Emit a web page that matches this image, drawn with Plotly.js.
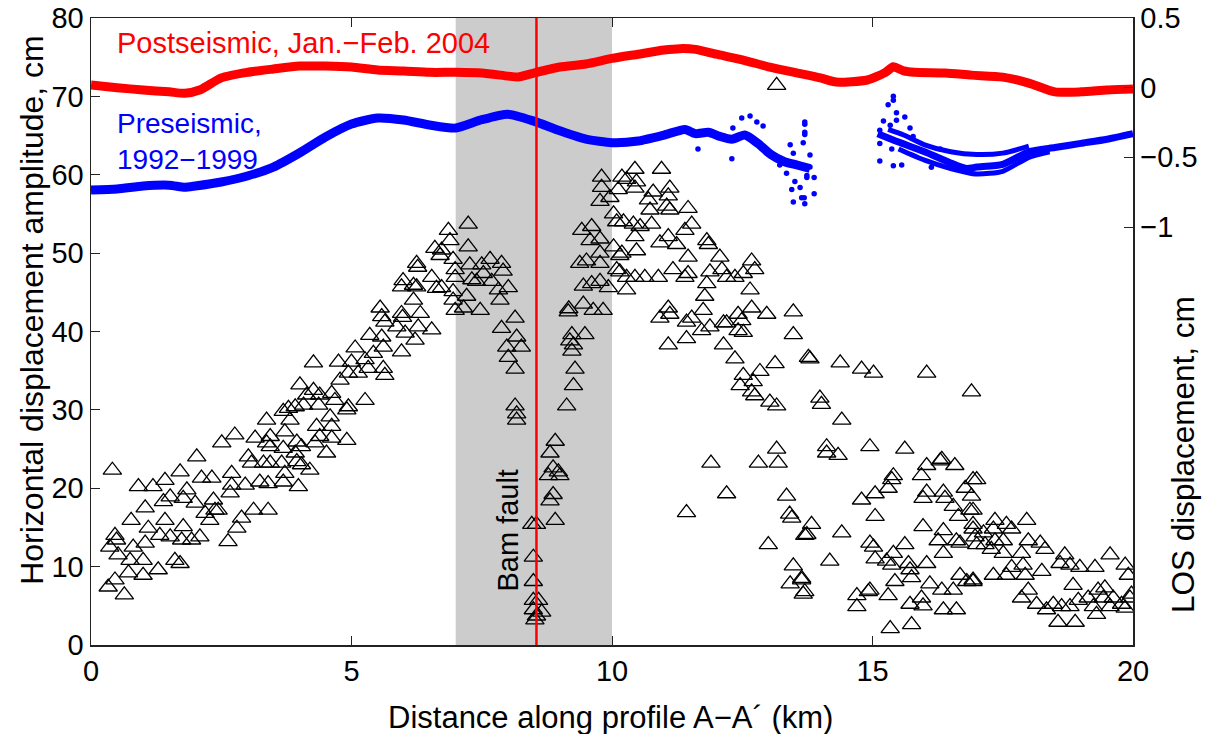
<!DOCTYPE html>
<html>
<head>
<meta charset="utf-8">
<script src="https://cdn.plot.ly/plotly-3.0.1.min.js"></script>
<style>html,body{margin:0;padding:0;background:#fff;}#chart{width:1211px;height:734px;}</style>
</head>
<body>
<div id="chart"></div>
<script>
// ---- Data ----
// Horizontal displacement amplitude (cm), left axis
const triX = [0.41,0.33,0.46,0.64,0.36,0.46,0.52,0.49,0.72,0.75,0.77,0.81,1.0,1.0,1.04,1.04,1.1,0.91,1.19,1.29,1.32,1.39,1.42,1.42,1.52,1.52,1.61,1.71,1.71,1.74,1.77,1.77,1.84,1.93,2.0,2.03,2.09,2.12,2.19,2.28,2.32,2.35,2.38,2.44,2.51,2.63,2.67,2.70,2.76,2.80,2.70,2.89,2.96,3.02,3.08,3.12,3.15,3.24,3.31,3.37,3.37,3.40,3.44,
6.86,6.60,6.70,6.25,6.27,5.99,5.96,6.19,6.25,6.54,6.63,6.19,5.55,5.58,5.64,5.96,5.98,5.87,6.03,6.28,6.32,6.54,6.22,5.96,5.35,5.58,5.61,5.42,5.07,5.0,5.26,5.32,5.61,5.64,5.13,4.94,4.75,4.78,4.27,4.01,4.27,4.39,4.62,4.68,4.94,4.91,5.26,4.14,4.08,4.37,3.92,3.79,3.69,3.82,3.72,3.44,3.95,4.33,4.39,4.59,4.62,4.62,4.91,4.30,4.52,4.04,3.92,3.69,3.44,3.66,3.95,4.04,4.20,3.72,3.69,3.98,3.40,
6.89,7.24,6.73,6.95,6.99,7.24,7.27,6.99,6.73,6.95,6.95,6.99,7.15,7.21,7.31,7.40,7.50,7.53,7.47,7.66,7.69,7.88,7.91,7.82,7.85,8.01,8.14,7.88,8.17,7.98,8.26,8.01,8.14,8.14,8.17,8.17,8.46,8.55,8.49,8.49,8.49,8.59,8.49,8.55,8.65,8.52,8.91,8.81,8.78,8.87,8.97,9.0,8.87,8.81,8.91,9.13,9.26,9.29,9.23,9.26,9.19,9.23,9.16,9.17,9.48,9.45,9.64,9.83,9.45,9.61,9.77,9.93,9.38,9.51,9.77,9.77,9.42,9.61,9.58,9.77,10.03,10.15,10.09,10.03,10.09,9.80,9.80,9.77,9.96,10.12,10.19,10.28,
10.28,10.44,10.47,10.44,10.95,11.11,11.08,10.79,10.70,10.73,11.05,11.11,11.46,10.76,10.41,10.22,10.54,10.44,10.47,10.19,10.15,10.28,10.44,10.63,10.89,10.92,11.08,11.24,11.40,11.53,11.17,11.40,11.46,11.46,11.82,11.85,12.07,12.11,11.88,11.82,11.78,11.75,12.20,12.36,12.52,12.68,12.74,12.65,12.68,12.97,13.48,13.48,13.77,11.08,10.92,11.11,11.08,11.43,11.43,11.53,11.72,11.88,12.14,12.20,12.42,12.49,12.42,12.52,12.14,12.36,12.52,12.46,12.68,12.74,12.84,12.71,13.03,13.16,13.13,13.16,11.9,12.20,11.43,12.81,13.19,13.35,13.41,13.45,13.0,13.70,13.48,13.64,13.42,13.67,13.16,
13.80,14.38,14.79,15.02,16.04,16.90,13.99,14.02,14.41,14.12,14.12,14.34,14.95,15.62,16.04,16.30,16.33,16.58,16.93,15.40,15.37,15.94,15.30,15.05,14.79,16.04,15.97,16.36,16.39,16.78,16.55,16.65,16.87,15.05,13.83,13.74,14.41,14.95,15.02,15.62,15.40,15.97,16.36,16.26,16.61,16.68,16.93,15.05,15.27,15.37,15.69,15.72,15.75,16.04,16.36,14.18,13.64,13.70,14.70,14.70,14.92,14.95,15.30,15.43,15.72,15.94,15.97,16.10,16.33,16.36,16.55,16.61,16.68,16.81,16.93,15.34,15.75,
17.0,16.90,16.93,16.93,16.97,17.0,16.93,17.32,17.57,17.93,17.35,17.32,17.57,17.67,17.96,17.13,17.16,17.35,17.51,17.28,17.51,17.99,17.86,17.89,17.67,18.22,18.31,18.25,18.69,18.60,18.79,18.85,18.98,19.27,19.56,19.85,19.91,17.86,17.99,18.15,18.34,18.56,18.47,18.63,18.89,18.79,18.95,19.14,19.24,19.33,19.46,19.43,19.62,19.56,19.78,19.85,19.94,19.97,19.30];
const triY = [22.3,7.4,8.3,6.4,12.5,14.0,11.5,13.4,9.2,10.8,15.9,12.5,8.9,10.8,13.0,17.5,14.9,20.2,20.2,9.6,14.0,18.3,21.0,15.9,18.9,13.8,10.8,10.4,22.1,13.4,15.1,18.7,19.8,13.4,18.1,24.0,13.8,21.3,16.8,15.9,21.3,18.5,17.2,17.2,25.8,13.2,19.4,21.9,26.8,14.9,20.4,16.2,20.4,24.0,23.2,17.2,26.4,20.8,23.2,28.7,25.8,17.2,23.2,
52.9,50.6,49.7,48.7,48.2,46.5,45.7,45.9,45.7,46.9,45.5,44.0,43.0,41.9,41.2,42.3,41.8,40.6,39.8,40.6,42.3,40.2,38.9,37.4,39.5,39.3,38.0,37.2,37.9,36.1,36.4,35.3,35.3,34.4,34.7,34.7,36.1,33.8,36.0,33.2,32.5,31.9,32.1,31.2,30.4,30.0,31.2,31.9,30.6,30.6,30.4,30.2,29.8,28.7,27.2,26.6,25.9,27.9,26.6,29.1,27.9,26.4,26.1,25.8,24.5,25.3,24.5,25.1,25.3,23.2,23.4,23.0,22.3,21.9,20.8,20.2,20.6,
51.6,53.7,50.4,49.2,47.9,50.8,48.5,46.9,45.6,45.1,44.0,42.7,43.0,44.5,46.6,46.4,48.5,47.4,42.7,49.2,46.4,48.7,47.7,45.3,44.0,45.6,41.7,40.4,39.3,38.0,38.0,36.7,35.2,30.5,29.5,28.7,15.4,15.4,11.2,8.1,5.7,5.7,4.5,3.7,4.2,3.2,26.0,24.5,21.6,22.6,22.1,21.6,19.2,18.4,15.9,30.5,33.1,35.2,37.5,38.3,38.8,39.6,42.5,42.9,39.6,43.5,42.7,42.7,45.8,46.1,46.4,45.6,48.7,49.0,48.7,50.0,52.9,53.4,51.6,51.8,50.8,49.7,47.9,55.0,54.0,59.7,58.4,56.6,57.1,58.1,59.7,45.3,
59.4,60.7,59.1,58.3,60.7,58.3,57.3,57.8,56.8,55.5,56.0,55.5,55.7,53.7,53.7,54.0,53.4,52.1,50.3,50.0,47.6,46.9,46.9,46.9,46.9,51.3,52.1,51.1,52.9,53.7,47.9,46.9,49.5,47.4,51.6,51.1,49.5,47.9,47.6,46.1,44.5,42.7,46.9,46.9,47.4,49.0,47.9,45.3,43.0,42.2,42.5,39.6,36.7,43.0,41.7,42.2,38.3,39.1,41.2,41.7,40.1,40.6,41.1,41.1,42.2,41.4,40.1,39.9,38.3,36.5,34.4,33.1,32.3,31.8,34.9,33.6,31.0,30.5,35.9,25.0,23.2,19.3,16.9,23.2,23.2,19.0,16.7,16.2,12.8,14.0,10.1,8.5,7.8,6.5,71.4,
36.5,36.0,35.2,34.7,34.7,32.3,31.5,30.7,28.7,25.3,24.5,24.2,25.3,25.0,22.9,23.5,23.7,22.9,21.1,21.6,21.1,21.6,20.0,19.3,18.5,19.5,18.7,19.5,18.7,20.0,17.7,16.4,17.2,16.4,15.4,14.1,14.3,13.0,12.5,12.8,11.7,15.1,14.6,13.3,13.3,13.0,14.8,11.0,10.7,10.2,10.4,9.6,8.6,10.4,11.7,10.7,8.3,6.8,6.3,4.9,6.8,7.0,6.3,8.1,5.2,6.0,5.0,7.8,7.0,4.5,7.0,4.5,8.9,8.1,8.1,2.1,2.6,
21.1,19.0,17.2,15.4,13.8,12.8,8.3,8.9,8.9,8.9,15.9,14.8,15.4,14.8,15.9,14.3,12.8,13.3,13.3,12.2,11.7,13.3,11.7,10.2,9.9,13.0,12.2,9.4,11.5,10.4,10.2,7.6,9.9,9.9,11.5,10.2,8.9,6.0,7.0,5.2,4.5,2.9,5.2,4.9,2.9,4.9,5.7,6.0,4.9,7.0,7.3,6.0,6.0,4.9,5.2,4.7,6.0,6.5,3.9];

// Postseismic LOS (cm), right axis
const postX = [0,0.5,1,1.5,1.8,2.1,2.5,3,3.5,4,4.5,5,5.5,6,6.5,7,7.5,8,8.2,8.5,9,9.5,10,10.5,11,11.3,11.6,12,12.5,13,13.5,14,14.3,14.9,15.25,15.4,15.6,15.8,16.4,16.9,17.5,18,18.5,19,19.5,20];
const postY = [0.02,0.0,-0.017,-0.03,-0.04,-0.015,0.07,0.11,0.134,0.155,0.155,0.148,0.127,0.12,0.11,0.11,0.105,0.083,0.076,0.105,0.148,0.17,0.21,0.24,0.27,0.28,0.275,0.24,0.2,0.15,0.11,0.07,0.04,0.055,0.11,0.15,0.12,0.11,0.105,0.09,0.076,0.033,-0.03,-0.03,-0.017,-0.01];

// Preseismic LOS (cm), right axis - two segments plus side strands
const preX1 = [0,0.5,1,1.5,1.8,2,2.5,3,3.5,4,4.5,5,5.5,6,6.5,7,7.5,8,8.5,9,9.5,10,10.5,11,11.4,11.6,11.85,12.07,12.3,12.55,12.8,13.05,13.3,13.55,13.8];
const preY1 = [-0.735,-0.728,-0.706,-0.70,-0.715,-0.706,-0.677,-0.634,-0.57,-0.469,-0.354,-0.261,-0.218,-0.232,-0.268,-0.29,-0.23,-0.19,-0.24,-0.31,-0.37,-0.395,-0.383,-0.34,-0.30,-0.33,-0.32,-0.35,-0.37,-0.34,-0.40,-0.48,-0.53,-0.555,-0.58];
const preX2 = [15.1,15.5,16,16.5,16.8,17,17.5,18,18.5,19,19.5,20];
const preY2 = [-0.33,-0.39,-0.46,-0.54,-0.58,-0.57,-0.55,-0.46,-0.43,-0.40,-0.37,-0.33];
const preUpX = [15.3,15.6,16,16.5,17,17.5,18];
const preUpY = [-0.30,-0.34,-0.41,-0.46,-0.48,-0.47,-0.42];
const preLoX = [15.5,16,16.5,17,17.5,18,18.4];
const preLoY = [-0.44,-0.52,-0.58,-0.62,-0.60,-0.50,-0.46];
const preScatX = [12.49,12.65,12.78,12.32,12.90,11.65,12.30,13.70,13.70,13.67,13.42,13.48,13.45,13.61,13.51,13.64,13.48,13.70,13.35,13.22,13.74,13.70,13.70,13.80,13.80,13.74,13.88,13.88,13.69,15.40,15.40,15.30,15.46,15.62,15.21,15.34,15.46,15.14,15.14,15.37,15.14,15.40,15.56,15.72,15.78,16.13,16.30];
const preScatY = [-0.218,-0.203,-0.247,-0.29,-0.275,-0.44,-0.51,-0.247,-0.32,-0.395,-0.41,-0.47,-0.73,-0.717,-0.673,-0.79,-0.82,-0.834,-0.614,-0.555,-0.63,-0.262,-0.336,-0.483,-0.57,-0.644,-0.644,-0.761,-0.79,-0.061,-0.09,-0.122,-0.18,-0.21,-0.24,-0.27,-0.233,-0.306,-0.40,-0.44,-0.527,-0.56,-0.555,-0.29,-0.35,-0.572,-0.44];

const shadeX = [7, 10];
const faultX = 8.55;
const xTicks = [0,5,10,15,20];
const y2Labeled = [-1,-0.5,0,0.5];
const y2Labels = ['\u22121','\u22120.5','0','0.5'];

// ---- Plot ----
const FONT = 'Liberation Sans, Arial, Helvetica, sans-serif';
const RED = '#ff0000', BLUE = '#0000ff';

const bandLine = (x, y, color, w) => ({
  x: x, y: y, yaxis: 'y2', type: 'scatter', mode: 'lines',
  line: {color: color, width: w, shape: 'spline', smoothing: 0.6},
  hoverinfo: 'skip', showlegend: false
});

const traces = [
  bandLine(postX, postY, RED, 9),
  bandLine(preX1, preY1, BLUE, 9),
  bandLine(preX2, preY2, BLUE, 7),
  bandLine(preUpX, preUpY, BLUE, 5),
  bandLine(preLoX, preLoY, BLUE, 5),
  {x: preScatX, y: preScatY, yaxis: 'y2', type: 'scatter', mode: 'markers',
   marker: {color: BLUE, size: 5.5}, showlegend: false},
  {x: triX, y: triY, type: 'scatter', mode: 'markers',
   marker: {symbol: 'triangle-up-open', size: 16, color: '#000', line: {color: '#000', width: 1.3}},
   showlegend: false}
];

const axisLine = '#222222';
const layout = {
  width: 1211, height: 734,
  margin: {l: 91, r: 78, t: 18, b: 89},
  paper_bgcolor: '#fff', plot_bgcolor: '#fff',
  font: {family: FONT, size: 29, color: '#000'},
  showlegend: false,
  xaxis: {
    range: [0, 20], tickvals: xTicks, ticks: 'inside', ticklen: 9, tickcolor: axisLine,
    showline: true, linecolor: axisLine, linewidth: 1.5, mirror: 'ticks',
    showgrid: false, zeroline: false, tickfont: {size: 29, family: FONT}
  },
  yaxis: {
    range: [0, 80], dtick: 10, ticks: 'inside', ticklen: 9, tickcolor: axisLine,
    showline: true, linecolor: axisLine, linewidth: 1.5, mirror: false,
    showgrid: false, zeroline: false, tickfont: {size: 29, family: FONT}
  },
  yaxis2: {
    overlaying: 'y', side: 'right', range: [-4, 0.5],
    tickvals: y2Labeled, ticktext: y2Labels, ticks: 'inside', ticklen: 9, tickcolor: axisLine,
    showline: true, linecolor: axisLine, linewidth: 1.5,
    showgrid: false, zeroline: false, tickfont: {size: 29, family: FONT}
  },
  yaxis3: {
    overlaying: 'y', side: 'right', range: [-4, 0.5], dtick: 0.5,
    ticks: 'inside', ticklen: 9, tickcolor: axisLine, showticklabels: false,
    showline: false, showgrid: false, zeroline: false
  },
  shapes: [
    {type: 'rect', xref: 'x', yref: 'paper', x0: shadeX[0], x1: shadeX[1], y0: 0, y1: 1,
     fillcolor: '#cccccc', line: {width: 0}, layer: 'below'},
    {type: 'line', xref: 'x', yref: 'paper', x0: faultX, x1: faultX, y0: 0, y1: 1,
     line: {color: RED, width: 2.5}, layer: 'above'}
  ],
  annotations: [
    {text: 'Postseismic, Jan.\u2212Feb. 2004', xref: 'x', yref: 'y', x: 0.46, y: 76.8,
     xanchor: 'left', yanchor: 'middle', showarrow: false, font: {color: RED, size: 29, family: FONT}},
    {text: 'Preseismic,<br>1992\u22121999', xref: 'x', yref: 'y', x: 0.46, y: 64.2,
     xanchor: 'left', yanchor: 'middle', align: 'left', showarrow: false,
     font: {color: BLUE, size: 28, family: FONT}},
    {text: 'Bam fault', xref: 'x', yref: 'y', x: 8.0, y: 14.7, textangle: -90,
     xanchor: 'center', yanchor: 'middle', showarrow: false, font: {color: '#000', size: 29, family: FONT}},
    {text: 'Horizontal displacement amplitude, cm', xref: 'paper', yref: 'paper', x: -0.056, y: 0.534,
     textangle: -90, xanchor: 'center', yanchor: 'middle', showarrow: false,
     font: {size: 32, family: FONT}},
    {text: 'LOS displacement, cm', xref: 'paper', yref: 'paper', x: 1.048, y: 0.303,
     textangle: -90, xanchor: 'center', yanchor: 'middle', showarrow: false,
     font: {size: 31.5, family: FONT}},
    {text: 'Distance along profile A\u2212A\u00b4 (km)', xref: 'paper', yref: 'paper', x: 0.499, y: -0.116,
     xanchor: 'center', yanchor: 'middle', showarrow: false, font: {size: 31, family: FONT}}
  ]
};

Plotly.newPlot('chart', traces, layout, {staticPlot: true, displayModeBar: false});
</script>
</body>
</html>
